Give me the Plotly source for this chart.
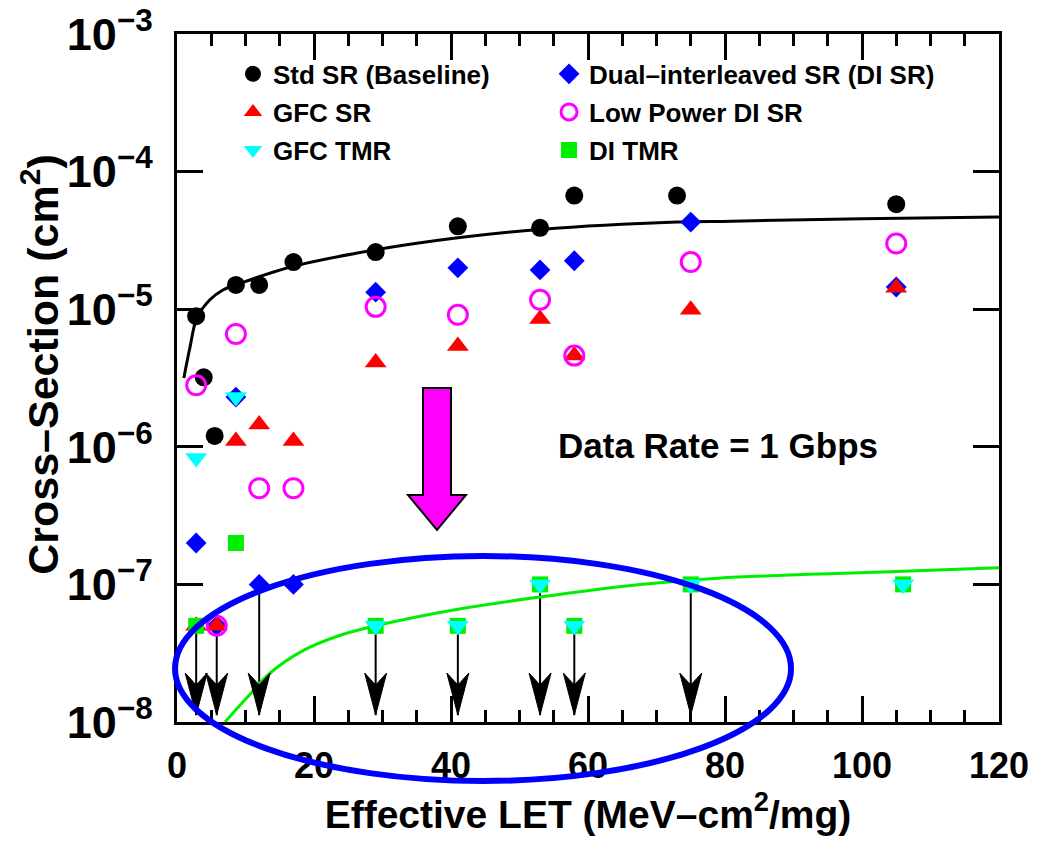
import plotly.graph_objects as go

FONT = "Liberation Sans, Arial, Helvetica, sans-serif"

# Effective LET (MeV-cm2/mg) and measured cross-section (cm2) for each latch design
std_let = [2.8, 3.9, 5.5, 8.6, 12, 17, 29, 41, 53, 58, 73, 105]
std_xs = [8.9e-6, 3.2e-6, 1.2e-6, 1.5e-5, 1.5e-5, 2.2e-5, 2.6e-5, 4.0e-5, 3.9e-5, 6.7e-5, 6.7e-5, 5.8e-5]

di_let = [2.8, 5.8, 8.6, 12, 17, 29, 41, 53, 58, 75, 105]
di_xs = [2.0e-7, 5e-8, 2.3e-6, 1.0e-7, 1.0e-7, 1.33e-5, 2.0e-5, 1.93e-5, 2.25e-5, 4.3e-5, 1.45e-5]

gfc_sr_let = [2.8, 5.8, 8.6, 12, 17, 29, 41, 53, 58, 75, 105]
gfc_sr_xs = [5e-8, 5e-8, 1.1e-6, 1.45e-6, 1.1e-6, 4.1e-6, 5.4e-6, 8.5e-6, 4.6e-6, 9.9e-6, 1.43e-5]

lp_let = [2.8, 5.8, 8.6, 12, 17, 29, 41, 53, 58, 75, 105]
lp_xs = [2.8e-6, 5e-8, 6.6e-6, 5.0e-7, 5.0e-7, 1.04e-5, 9.1e-6, 1.17e-5, 4.6e-6, 2.2e-5, 3.0e-5]

gfc_tmr_let = [2.8, 8.6, 29, 41, 53, 58, 75, 106]
gfc_tmr_xs = [8.3e-7, 2.3e-6, 5e-8, 5e-8, 1e-7, 5e-8, 1e-7, 1e-7]

di_tmr_let = [2.8, 8.6, 29, 41, 53, 58, 75, 106]
di_tmr_xs = [5e-8, 2.0e-7, 5e-8, 5e-8, 1e-7, 5e-8, 1e-7, 1e-7]

# upper limits (no upsets observed) drawn as downward arrows
limit_let = [2.8, 5.8, 12, 29, 41, 53, 58, 75]
limit_xs = [5e-8, 5e-8, 1e-7, 5e-8, 5e-8, 1e-7, 5e-8, 1e-7]
limit_floor = 1.12e-8

# fitted curves
fit_std_let = [1.0, 1.9, 2.9, 4.8, 6.7, 8.6, 12, 17, 29, 41, 53, 73, 81, 100, 120]
fit_std_xs = [3.16e-6, 5.3e-6, 8.6e-6, 1.17e-5, 1.38e-5, 1.5e-5, 1.72e-5, 2.05e-5, 2.7e-5,
              3.3e-5, 3.8e-5, 4.3e-5, 4.36e-5, 4.55e-5, 4.68e-5]
fit_tmr_let = [7.0, 10.2, 13.6, 18.4, 23.4, 29, 41, 53, 67.6, 79, 105, 120]
fit_tmr_xs = [1.0e-8, 1.5e-8, 2.27e-8, 3.3e-8, 4.2e-8, 5.0e-8, 6.6e-8, 8.1e-8, 1.0e-7,
              1.11e-7, 1.24e-7, 1.32e-7]

fig = go.Figure()

# arrow stems for the upper limits (markers sit on top of them)
stem_x, stem_y = [], []
for let, xs in zip(limit_let, limit_xs):
    stem_x += [let, let, None]
    stem_y += [xs, limit_floor, None]
fig.add_trace(go.Scatter(x=stem_x, y=stem_y, mode="lines",
                         line=dict(color="black", width=2), showlegend=False,
                         hoverinfo="skip"))

fig.add_trace(go.Scatter(x=fit_std_let, y=fit_std_xs, mode="lines", line_shape="spline",
                         line=dict(color="black", width=3), showlegend=False))
fig.add_trace(go.Scatter(x=fit_tmr_let, y=fit_tmr_xs, mode="lines", line_shape="spline",
                         line=dict(color="#00ee00", width=3), showlegend=False))

series = [
    ("Std SR (Baseline)", std_let, std_xs, dict(symbol="circle", size=18, color="black"), "legend"),
    ("Dual\u2013interleaved SR (DI SR)", di_let, di_xs, dict(symbol="diamond", size=16, color="#0000ff"), "legend2"),
    ("GFC SR", gfc_sr_let, gfc_sr_xs, dict(symbol="triangle-up", size=19, color="#ff0000"), "legend3"),
    ("Low Power DI SR", lp_let, lp_xs, dict(symbol="circle-open", size=19, color="#ff00ff", line=dict(width=3)), "legend4"),
    ("DI TMR", di_tmr_let, di_tmr_xs, dict(symbol="square", size=16, color="#00ee00"), "legend6"),
    ("GFC TMR", gfc_tmr_let, gfc_tmr_xs, dict(symbol="triangle-down", size=19, color="#00ffff"), "legend5"),
]
for name, xv, yv, mk, lg in series:
    fig.add_trace(go.Scatter(x=xv, y=yv, mode="markers", name=name, marker=mk, legend=lg))

# arrow heads anchored at each upper-limit LET, just above the x axis
shapes = []
for let in limit_let:
    shapes.append(dict(type="path", xref="x", xsizemode="pixel", xanchor=let,
                       yref="paper", ysizemode="pixel", yanchor=0,
                       path="M0,7 L-11,49 L0,37 L11,49 Z",
                       fillcolor="black", line=dict(color="black", width=1)))

# highlight ellipse around the TMR results
shapes.append(dict(type="circle", xref="paper", yref="paper",
                   x0=-0.0024, x1=0.747, y0=-0.0858, y1=0.2413,
                   line=dict(color="#0000ff", width=6), layer="above"))

# big magenta arrow pointing down to the TMR results
shapes.append(dict(type="path", xref="paper", xsizemode="pixel", xanchor=0.3163,
                   yref="paper", ysizemode="pixel", yanchor=0.2791,
                   path="M-14,142 L14,142 L14,35 L29,35 L0,0 L-29,35 L-14,35 Z",
                   fillcolor="#ff00ff", line=dict(color="black", width=2)))

axis_common = dict(showline=True, linecolor="black", linewidth=3, mirror="ticks",
                   ticks="inside", ticklen=26, tickwidth=2.5, tickcolor="black",
                   showgrid=False, zeroline=False, automargin=False,
                   ticklabeloverflow="allow",
                   tickfont=dict(family=FONT, size=36, color="black", weight="bold"))

legend_font = dict(family=FONT, size=26, color="black", weight="bold")
col_x = [0.0681, 0.4526]
row_y = [0.9419, 0.8866, 0.8314]
legends = {}
for i in range(6):
    key = "legend" if i == 0 else "legend%d" % (i + 1)
    legends[key] = dict(x=col_x[i % 2], xanchor="left", y=row_y[i // 2], yanchor="middle",
                        bgcolor="rgba(0,0,0,0)", font=legend_font)

fig.update_layout(
    width=1049, height=841,
    margin=dict(l=177, r=50, t=34, b=119),
    paper_bgcolor="white", plot_bgcolor="white",
    font=dict(family=FONT, color="black"),
    shapes=shapes,
    xaxis=dict(axis_common, range=[0, 120], dtick=20, tick0=0,
               minor=dict(dtick=5, ticks="inside", ticklen=12, tickwidth=2.5, tickcolor="black"),
               ticklabelstandoff=10,
               title=dict(text="Effective LET (MeV\u2013cm<sup>2</sup>/mg)", standoff=4,
                          font=dict(family=FONT, size=39, color="black", weight="bold"))),
    yaxis=dict(axis_common, type="log", range=[-8, -3], dtick=1, exponentformat="power",
               ticklabelstandoff=14),
    annotations=[
        dict(text="Data Rate = 1 Gbps", xref="paper", yref="paper",
             x=0.658, y=0.4026, showarrow=False,
             font=dict(family=FONT, size=35, color="black", weight="bold")),
        # y-axis title
        dict(text="Cross\u2013Section (cm<sup>2</sup>)", xref="paper", yref="paper",
             x=-0.166, y=0.52, xanchor="center", yanchor="middle", textangle=-90,
             showarrow=False,
             font=dict(family=FONT, size=43, color="black", weight="bold")),
    ],
    **legends,
)

fig.write_html("out.html")
